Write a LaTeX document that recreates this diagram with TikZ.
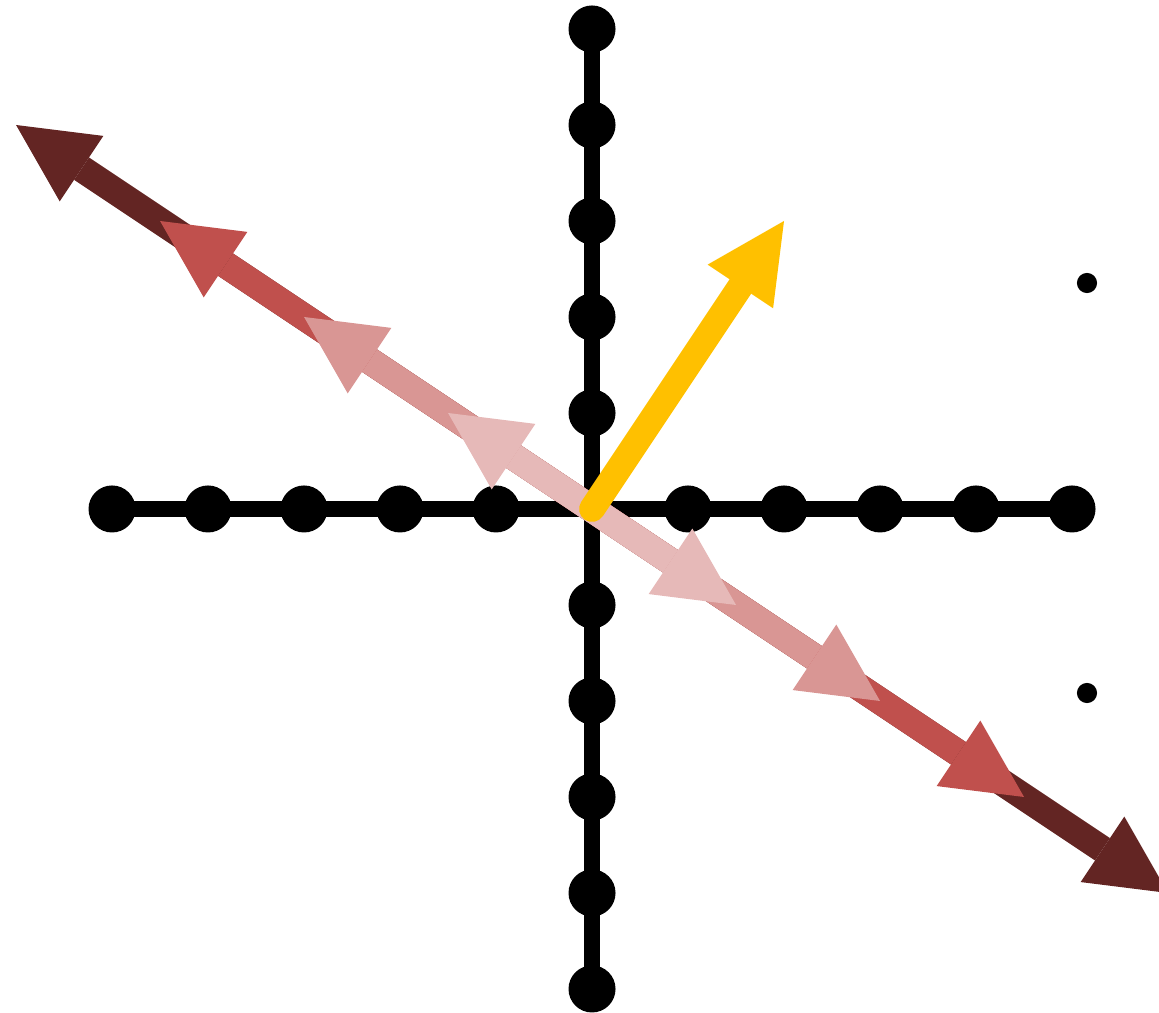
\documentclass[tikz,border=0pt]{standalone}
\usetikzlibrary{arrows.meta}

\definecolor{vecmaroon}{HTML}{632523}
\definecolor{vecred}{HTML}{C0504D}
\definecolor{vecrose}{HTML}{D99694}
\definecolor{vecpink}{HTML}{E6B9B8}
\definecolor{vecgold}{HTML}{FFC000}

\begin{document}
\begin{tikzpicture}[>={Triangle[length=0.82cm, width=0.82cm, line width=0pt]},
    axis/.style={line width=0.16cm},
    gridpt/.style={circle, fill=black, inner sep=0pt, minimum size=0.49cm},
    smallpt/.style={circle, fill=black, inner sep=0pt, minimum size=0.21cm},
    vec/.style={<->, line width=0.28cm}]
  \useasboundingbox (-6.167,-5.250) rectangle (5.906,5.302);

  % grid points on the two axes
  \coordinate (o) at (0,0);
  \foreach \i in {-5,...,-1,1,2,...,5} {
    \node[gridpt] (x\i) at (\i,0) {};
    \node[gridpt] (y\i) at (0,\i) {};
  }
  \draw[axis] (x-5.center) -- (x5.center);
  \draw[axis] (y-5.center) -- (y5.center);

  \node[smallpt] (m1) at (5.156,2.354) {};
  \node[smallpt] (m2) at (5.156,-1.917) {};

  % scaled copies of the eigen direction
  \foreach \k/\col in {4/vecmaroon, 3/vecred, 2/vecrose, 1/vecpink} {
    \coordinate (a\k) at ({-1.5*\k},\k);
    \coordinate (b\k) at ({1.5*\k},-\k);
    \draw[vec, \col] (a\k) -- (b\k);
  }

  \coordinate (v) at (2,3);
  \draw[->, line width=0.27cm, line cap=round, vecgold] (o) -- (v);
\end{tikzpicture}
\end{document}
